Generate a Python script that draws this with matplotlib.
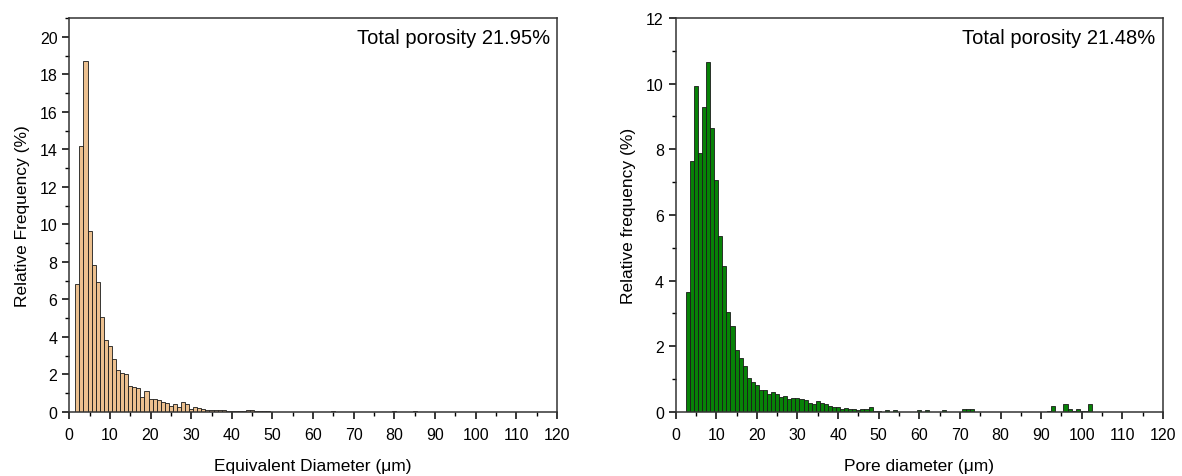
import numpy as np
import matplotlib
matplotlib.use('Agg')
import matplotlib.pyplot as plt
from matplotlib.ticker import MultipleLocator

plt.rcParams['font.family'] = ['Liberation Sans', 'DejaVu Sans']

# Painel esquerdo - diametro equivalente (classes de 1 um)
d_esq = np.arange(2, 71)
f_esq = [6.8, 14.17, 18.72, 9.63, 7.84, 6.95, 5.07, 3.85, 3.53, 2.85,
         2.23, 2.07, 2.02, 1.40, 1.35, 1.26, 0.78, 1.13, 0.69, 0.69,
         0.66, 0.55, 0.48, 0.34, 0.41, 0.25, 0.51, 0.43, 0.16, 0.27,
         0.21, 0.15, 0.12, 0.12, 0.10, 0.08, 0.10, 0.06, 0.07, 0.05,
         0.04, 0.05, 0.08, 0.10, 0.06, 0.03, 0.03, 0.03, 0.02, 0.02,
         0.02, 0.01, 0.02, 0.01, 0.02, 0.01, 0.02, 0.02, 0.01, 0.02,
         0.02, 0.01, 0.02, 0.03, 0.01, 0.02, 0.02, 0.01, 0.02]
d_esq_cauda = [72, 75, 80, 81, 85]
f_esq_cauda = [0.01, 0.01, 0.04, 0.02, 0.04]

# Painel direito - diametro de poro
d_dir = np.arange(3, 55)
f_dir = [3.64, 7.64, 9.94, 7.89, 9.30, 10.67, 8.64, 7.06, 5.35, 4.45,
         3.06, 2.62, 1.88, 1.63, 1.40, 1.05, 0.91, 0.81, 0.68, 0.66,
         0.54, 0.61, 0.54, 0.47, 0.49, 0.40, 0.43, 0.43, 0.41, 0.35,
         0.27, 0.25, 0.34, 0.28, 0.23, 0.18, 0.15, 0.14, 0.10, 0.12,
         0.08, 0.09, 0.07, 0.10, 0.09, 0.15, 0.02, 0.02, 0.0, 0.05,
         0.0, 0.05]
d_dir_cauda = [60, 62, 66, 71, 72, 73, 92, 93, 96, 97, 98, 99, 100, 101, 102]
f_dir_cauda = [0.06, 0.06, 0.07, 0.08, 0.08, 0.08, 0.02, 0.17, 0.24, 0.09,
               0.03, 0.10, 0.03, 0.02, 0.25]

porosidade = ['Total porosity 21.95%', 'Total porosity 21.48%']
rotulos_x = ['Equivalent Diameter (\u03bcm)', 'Pore diameter (\u03bcm)']
rotulos_y = ['Relative Frequency (%)', 'Relative frequency (%)']

fig = plt.figure(figsize=(11.82, 4.77), dpi=100)
ax1 = fig.add_axes([0.0586, 0.1342, 0.4126, 0.826])
ax2 = fig.add_axes([0.5716, 0.1342, 0.4123, 0.826])

def painel(ax, x, y, cor, ymax, ypasso, texto, xl, yl):
    ax.bar(x, y, width=1.0, color=cor, edgecolor='#1a1a1a', linewidth=0.6)
    ax.set_xlim(0, 120)
    ax.set_ylim(0, ymax)
    ax.xaxis.set_major_locator(MultipleLocator(10))
    ax.xaxis.set_minor_locator(MultipleLocator(5))
    ax.yaxis.set_major_locator(MultipleLocator(ypasso))
    ax.yaxis.set_minor_locator(MultipleLocator(ypasso / 2))
    ax.tick_params(which='major', direction='out', length=5, width=1.1,
                   labelsize=11.5, top=False, right=False)
    ax.tick_params(axis='x', which='major', pad=6)
    ax.tick_params(which='minor', direction='out', length=3, width=1.0,
                   top=False, right=False)
    for s in ax.spines.values():
        s.set_linewidth(1.1)
        s.set_color('#333333')
    ax.text(0.985, 0.975, texto, transform=ax.transAxes, ha='right', va='top',
            fontsize=14.5)
    ax.set_xlabel(xl, fontsize=12.5, labelpad=11)
    ax.set_ylabel(yl, fontsize=12.5, labelpad=7)

x1 = np.concatenate([d_esq, d_esq_cauda])
y1 = np.concatenate([f_esq, f_esq_cauda])
x2 = np.concatenate([d_dir, d_dir_cauda])
y2 = np.concatenate([f_dir, f_dir_cauda])

painel(ax1, x1, y1, '#ecc08f', 21, 2, porosidade[0], rotulos_x[0], rotulos_y[0])
painel(ax2, x2, y2, '#078207', 12, 2, porosidade[1], rotulos_x[1], rotulos_y[1])

fig.savefig('out.png', dpi=100)
